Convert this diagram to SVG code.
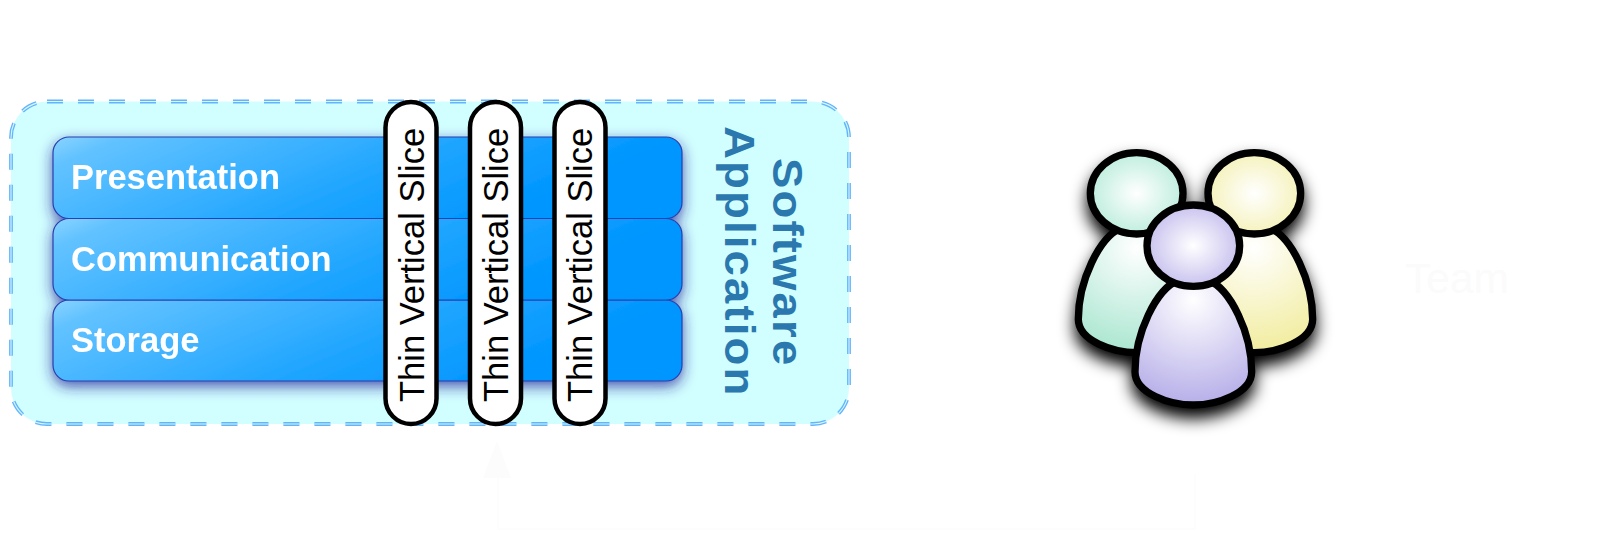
<svg xmlns="http://www.w3.org/2000/svg" width="1600" height="536" viewBox="0 0 1600 536">
<style>
.band{stroke:#2a3fae;stroke-width:1.2;fill:url(#bandFill)}
.bandLabel{font:bold 34.500px "Liberation Sans",Arial,sans-serif;fill:#fff}
.slice rect{fill:#fff;stroke:#000;stroke-width:4.500}
.slice text{font:34.500px "Liberation Sans",Arial,sans-serif;fill:#000}
.title{font:bold 43px "Liberation Sans",Arial,sans-serif;fill:#2a78ae;letter-spacing:2px}
.outline{fill:none;stroke:#000;stroke-width:22}
.faint{fill:none;stroke:#fdfdfd;stroke-width:2}
</style>
<defs>
<linearGradient id="bandFill" gradientUnits="objectBoundingBox" x1="0" y1="0" x2="1" y2="0.3">
<stop offset="0" stop-color="#8ad4ff"/><stop offset="0.1" stop-color="#62c2ff"/><stop offset="0.6" stop-color="#1fa5ff"/><stop offset="0.92" stop-color="#0096ff"/><stop offset="1" stop-color="#0096ff"/>
</linearGradient>
<filter id="bandShadow" x="-5%" y="-10%" width="110%" height="125%"><feDropShadow dx="0" dy="5" stdDeviation="7" flood-color="#20209a" flood-opacity="0.75"/></filter>
<filter id="teamShadow" x="-25%" y="-25%" width="150%" height="150%"><feDropShadow dx="0" dy="30" stdDeviation="24" flood-color="#000" flood-opacity="1"/></filter>
<radialGradient id="gh"><stop offset="0" stop-color="#fff"/><stop offset="1" stop-color="#bfeedd"/></radialGradient>
<radialGradient id="yh"><stop offset="0" stop-color="#fff"/><stop offset="1" stop-color="#f5f2bc"/></radialGradient>
<radialGradient id="ph"><stop offset="0" stop-color="#fff"/><stop offset="1" stop-color="#c8c2ee"/></radialGradient>
<radialGradient id="gb" gradientUnits="userSpaceOnUse" cx="430" cy="510" r="320"><stop offset="0" stop-color="#fff"/><stop offset="1" stop-color="#a9e6d0"/></radialGradient>
<radialGradient id="yb" gradientUnits="userSpaceOnUse" cx="430" cy="510" r="320"><stop offset="0" stop-color="#fff"/><stop offset="1" stop-color="#f1ec9c"/></radialGradient>
<radialGradient id="pb" gradientUnits="userSpaceOnUse" cx="430" cy="510" r="320"><stop offset="0" stop-color="#fff"/><stop offset="1" stop-color="#b5ade8"/></radialGradient>
<path id="body" d="M385 450C318 478 255 610 255 725C255 790 360 825 430 825C500 825 605 790 605 725C605 610 542 478 475 450Z"/>
</defs>

<g id="application">
<rect x="11" y="101.500" width="838" height="322.500" rx="36" fill="#d1feff"/>
<rect x="11" y="101.500" width="838" height="322.500" rx="36" fill="none" stroke="#62b5fb" stroke-width="3.800" stroke-dasharray="16 15"/>
<rect x="11" y="101.500" width="838" height="322.500" rx="36" fill="none" stroke="#d8f6ff" stroke-width="1.100" stroke-dasharray="16 15"/>
<text class="title" transform="translate(773 158) rotate(90) scale(1.06 1)">Software</text>
<text class="title" transform="translate(725 126) rotate(90) scale(1.06 1)">Application</text>
</g>

<g id="layers" filter="url(#bandShadow)">
<g id="layer-storage"><rect class="band" x="53" y="300" width="629" height="81" rx="16"/><text class="bandLabel" x="71" y="352">Storage</text></g>
<g id="layer-communication"><rect class="band" x="53" y="218.500" width="629" height="81.500" rx="16"/><text class="bandLabel" x="71" y="271">Communication</text></g>
<g id="layer-presentation"><rect class="band" x="53" y="137" width="629" height="81.500" rx="16"/><text class="bandLabel" x="71" y="189">Presentation</text></g>
</g>

<g id="slice-1" class="slice"><rect x="385.500" y="102" width="51" height="322" rx="25.500"/><text transform="translate(423.500 402) rotate(-90)">Thin Vertical Slice</text></g>
<g id="slice-2" class="slice"><rect x="470" y="102" width="51" height="322" rx="25.500"/><text transform="translate(507.500 402) rotate(-90)">Thin Vertical Slice</text></g>
<g id="slice-3" class="slice"><rect x="554.500" y="102" width="51" height="322" rx="25.500"/><text transform="translate(591.500 402) rotate(-90)">Thin Vertical Slice</text></g>

<g id="team-icon" transform="translate(1050 130) scale(0.33333)" filter="url(#teamShadow)">
<g id="person-green" transform="translate(-170 -157)"><use href="#body" fill="url(#gb)"/><use href="#body" class="outline"/><ellipse cx="430" cy="347" rx="139" ry="122" fill="url(#gh)"/><ellipse cx="430" cy="347" rx="139" ry="122" class="outline"/></g>
<g id="person-yellow" transform="translate(183 -157)"><use href="#body" fill="url(#yb)"/><use href="#body" class="outline"/><ellipse cx="430" cy="347" rx="139" ry="122" fill="url(#yh)"/><ellipse cx="430" cy="347" rx="139" ry="122" class="outline"/></g>
<g id="person-purple"><use href="#body" fill="url(#pb)"/><use href="#body" class="outline"/><ellipse cx="430" cy="347" rx="139" ry="122" fill="url(#ph)"/><ellipse cx="430" cy="347" rx="139" ry="122" class="outline"/></g>
</g>

<g id="team-label"><text x="1405" y="293" font-family="'Liberation Sans',Arial,sans-serif" font-size="42.500" fill="#fbfbfb">Team</text></g>

<g id="connectors">
<path class="faint" d="M1195 474V529H498V478"/>
<path d="M497 441L511 478H483Z" fill="#fcfcfc"/>
</g>
</svg>
